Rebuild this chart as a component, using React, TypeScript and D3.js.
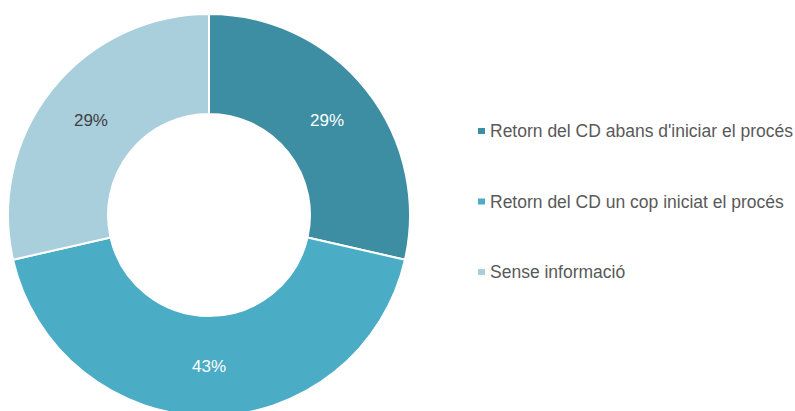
import * as d3 from "d3";

const categories = [
  "Retorn del CD abans d'iniciar el procés",
  "Retorn del CD un cop iniciat el procés",
  "Sense informació",
];
const values = [2, 3, 2];
const colors = ["#3D8DA3", "#4BACC6", "#A9CEDC"];
const labelColors = ["#ffffff", "#ffffff", "#404040"];

const width = 795;
const height = 411;
const cx = 209;
const cy = 215;
const outerR = 201;
const innerR = 101;

export default function App() {
  const pie = d3.pie<number>().sort(null).value((d) => d);
  const arcs = pie(values);
  const arc = d3.arc<d3.PieArcDatum<number>>().innerRadius(innerR).outerRadius(outerR);
  const labelArc = d3
    .arc<d3.PieArcDatum<number>>()
    .innerRadius((innerR + outerR) / 2)
    .outerRadius((innerR + outerR) / 2);
  const total = d3.sum(values);
  const fmt = d3.format(".0%");
  const legendY = d3.scalePoint<number>().domain([0, 1, 2]).range([131, 272]);

  return (
    <svg
      width={width}
      height={height}
      style={{ position: "absolute", left: 0, top: 0, fontFamily: "Arial, 'Liberation Sans', sans-serif" }}
    >
      <rect width={width} height={height} fill="#ffffff" />
      <g transform={`translate(${cx},${cy})`}>
        {arcs.map((a, i) => (
          <path key={i} d={arc(a) ?? ""} fill={colors[i]} stroke="#ffffff" strokeWidth={2} />
        ))}
        {arcs.map((a, i) => {
          const [x, y] = labelArc.centroid(a);
          return (
            <text
              key={i}
              x={x}
              y={y}
              textAnchor="middle"
              dominantBaseline="central"
              fontSize={17}
              fill={labelColors[i]}
            >
              {fmt(a.value / total)}
            </text>
          );
        })}
      </g>
      <g>
        {categories.map((c, i) => (
          <g key={i} transform={`translate(478,${legendY(i)})`}>
            <rect x={0} y={-3} width={7} height={6} fill={colors[i]} />
            <text x={12} y={0} dominantBaseline="central" fontSize={17.5} fill="#595959">
              {c}
            </text>
          </g>
        ))}
      </g>
    </svg>
  );
}
